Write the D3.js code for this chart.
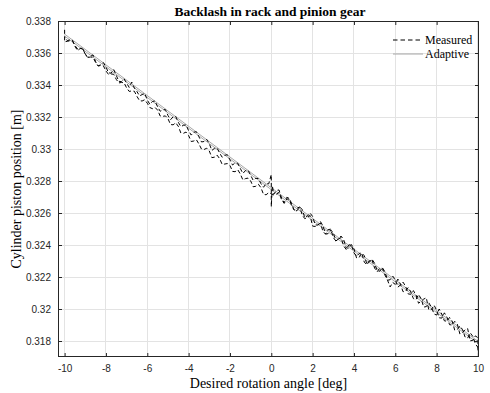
<!DOCTYPE html>
<html><head><meta charset="utf-8">
<script src="https://cdn.jsdelivr.net/npm/d3@7"></script>
<style>body{margin:0;background:#fff}svg{display:block}</style>
</head><body>
<script>
const xTicks = [-10,-8,-6,-4,-2,0,2,4,6,8,10];
const xTickLabels = ["-10","-8","-6","-4","-2","0","2","4","6","8","10"];
const yTicks = [0.318,0.32,0.322,0.324,0.326,0.328,0.33,0.332,0.334,0.336,0.338];
const yTickLabels = ["0.318","0.32","0.322","0.324","0.326","0.328","0.33","0.332","0.334","0.336","0.338"];

// Measured, forward sweep [angle, position]
const measuredFwd = [
[-10,0.33745],[-10,0.33670],[-9.875,0.33673],[-9.75,0.33676],[-9.625,0.33679],[-9.5,0.33642],[-9.375,0.33615],[-9.25,0.33628],[-9.125,0.33631],[-9,0.33589],
[-8.875,0.33572],[-8.75,0.33580],[-8.625,0.33588],[-8.5,0.33546],[-8.375,0.33519],[-8.25,0.33527],[-8.125,0.33540],[-8,0.33513],[-7.875,0.33476],[-7.75,0.33474],
[-7.625,0.33497],[-7.5,0.33460],[-7.375,0.33423],[-7.25,0.33421],[-7.125,0.33439],[-7,0.33412],[-6.875,0.33385],[-6.75,0.33418],[-6.625,0.33381],[-6.5,0.33359],
[-6.375,0.33332],[-6.25,0.33340],[-6.125,0.33348],[-6,0.33306],[-5.875,0.33279],[-5.75,0.33297],[-5.625,0.33300],[-5.5,0.33263],[-5.375,0.33236],[-5.25,0.33244],
[-5.125,0.33247],[-5,0.33210],[-4.875,0.33183],[-4.75,0.33201],[-4.625,0.33204],[-4.5,0.33167],[-4.375,0.33140],[-4.25,0.33148],[-4.125,0.33151],[-4,0.33114],
[-3.875,0.33087],[-3.75,0.33105],[-3.625,0.33108],[-3.5,0.33076],[-3.375,0.33044],[-3.25,0.33047],[-3.125,0.33060],[-3,0.33033],[-2.875,0.32991],[-2.75,0.33004],
[-2.625,0.33007],[-2.5,0.32975],[-2.375,0.32948],[-2.25,0.32961],[-2.125,0.32964],[-2,0.32932],[-1.875,0.32900],[-1.75,0.32913],[-1.625,0.32911],[-1.5,0.32879],
[-1.375,0.32847],[-1.25,0.32865],[-1.125,0.32868],[-1,0.32836],[-0.875,0.32804],[-0.75,0.32817],[-0.625,0.32815],[-0.5,0.32783],[-0.375,0.32761],[-0.25,0.32784],
[-0.125,0.32782],[0,0.32840],[0,0.32640],[0.05,0.32770],[0.125,0.32718],[0.25,0.32741],[0.375,0.32744],[0.5,0.32692],[0.625,0.32665],[0.75,0.32698],
[0.875,0.32691],[1,0.32654],[1.125,0.32612],[1.25,0.32615],[1.375,0.32638],[1.5,0.32621],[1.625,0.32569],[1.75,0.32582],[1.875,0.32600],[2,0.32578],
[2.125,0.32526],[2.25,0.32524],[2.375,0.32547],[2.5,0.32520],[2.625,0.32468],[2.75,0.32471],[2.875,0.32494],[3,0.32477],[3.125,0.32425],[3.25,0.32438],
[3.375,0.32456],[3.5,0.32434],[3.625,0.32382],[3.75,0.32380],[3.875,0.32403],[4,0.32376],[4.125,0.32319],[4.25,0.32322],[4.375,0.32350],[4.5,0.32333],
[4.625,0.32281],[4.75,0.32294],[4.875,0.32312],[5,0.32285],[5.125,0.32238],[5.25,0.32236],[5.375,0.32259],[5.5,0.32232],[5.625,0.32180],[5.75,0.32183],
[5.875,0.32206],[6,0.32184],[6.125,0.32137],[6.25,0.32150],[6.375,0.32168],[6.5,0.32141],[6.625,0.32094],[6.75,0.32092],[6.875,0.32115],[7,0.32088],
[7.125,0.32036],[7.25,0.32049],[7.375,0.32062],[7.5,0.32070],[7.625,0.31993],[7.75,0.31996],[7.875,0.32024],[8,0.31992],[8.125,0.31945],[8.25,0.31943],
[8.375,0.31976],[8.5,0.31949],[8.625,0.31902],[8.75,0.31900],[8.875,0.31923],[9,0.31906],[9.125,0.31844],[9.25,0.31852],[9.375,0.31870],[9.5,0.31878],
[9.625,0.31801],[9.75,0.31804],[9.875,0.31832],[10,0.31820],[10,0.31740]
];

// Measured, return sweep [angle, position]
const measuredRet = [
[10,0.31760],[9.875,0.31782],[9.75,0.31829],[9.625,0.31851],[9.5,0.31818],[9.375,0.31825],[9.25,0.31872],[9.125,0.31894],[9,0.31871],[8.875,0.31868],
[8.75,0.31925],[8.625,0.31947],[8.5,0.31924],[8.375,0.31926],[8.25,0.31968],[8.125,0.32000],[8,0.31962],[7.875,0.31969],[7.75,0.32011],[7.625,0.32038],
[7.5,0.32015],[7.375,0.32012],[7.25,0.32064],[7.125,0.32091],[7,0.32058],[6.875,0.32065],[6.75,0.32107],[6.625,0.32134],[6.5,0.32111],[6.375,0.32108],
[6.25,0.32155],[6.125,0.32187],[6,0.32154],[5.875,0.32166],[5.75,0.32138],[5.625,0.32180],[5.5,0.32212],[5.375,0.32254],[5.25,0.32256],[5.125,0.32233],
[5,0.32255],[4.875,0.32307],[4.75,0.32304],[4.625,0.32276],[4.5,0.32293],[4.375,0.32350],[4.25,0.32347],[4.125,0.32329],[4,0.32351],[3.875,0.32403],
[3.75,0.32400],[3.625,0.32372],[3.5,0.32394],[3.375,0.32446],[3.25,0.32438],[3.125,0.32425],[3,0.32447],[2.875,0.32499],[2.75,0.32496],[2.625,0.32468],
[2.5,0.32485],[2.375,0.32537],[2.25,0.32524],[2.125,0.32516],[2,0.32518],[1.875,0.32585],[1.75,0.32572],[1.625,0.32564],[1.5,0.32586],[1.375,0.32638],
[1.25,0.32630],[1.125,0.32617],[1,0.32639],[0.875,0.32686],[0.75,0.32688],[0.625,0.32660],[0.5,0.32682],[0.375,0.32729],[0.25,0.32716],[0.125,0.32713],
[0,0.32720],[-0.125,0.32727],[-0.25,0.32714],[-0.375,0.32716],[-0.5,0.32758],[-0.625,0.32780],[-0.75,0.32767],[-0.875,0.32764],[-1,0.32801],[-1.125,0.32818],
[-1.25,0.32815],[-1.375,0.32807],[-1.5,0.32844],[-1.625,0.32871],[-1.75,0.32858],[-1.875,0.32860],[-2,0.32897],[-2.125,0.32909],[-2.25,0.32906],[-2.375,0.32903],
[-2.5,0.32940],[-2.625,0.32962],[-2.75,0.32949],[-2.875,0.32946],[-3,0.32988],[-3.125,0.33005],[-3.25,0.32997],[-3.375,0.32999],[-3.5,0.33031],[-3.625,0.33058],
[-3.75,0.33050],[-3.875,0.33047],[-4,0.33084],[-4.125,0.33106],[-4.25,0.33098],[-4.375,0.33100],[-4.5,0.33142],[-4.625,0.33164],[-4.75,0.33151],[-4.875,0.33153],
[-5,0.33190],[-5.125,0.33207],[-5.25,0.33204],[-5.375,0.33206],[-5.5,0.33243],[-5.625,0.33260],[-5.75,0.33252],[-5.875,0.33259],[-6,0.33286],[-6.125,0.33308],
[-6.25,0.33300],[-6.375,0.33302],[-6.5,0.33329],[-6.625,0.33361],[-6.75,0.33363],[-6.875,0.33360],[-7,0.33382],[-7.125,0.33414],[-7.25,0.33416],[-7.375,0.33413],
[-7.5,0.33435],[-7.625,0.33467],[-7.75,0.33469],[-7.875,0.33466],[-8,0.33488],[-8.125,0.33520],[-8.25,0.33522],[-8.375,0.33519],[-8.5,0.33541],[-8.625,0.33573],
[-8.75,0.33575],[-8.875,0.33572],[-9,0.33594],[-9.125,0.33626],[-9.25,0.33628],[-9.375,0.33625],[-9.5,0.33647],[-9.625,0.33679],[-9.75,0.33681],[-9.875,0.33678],
[-10,0.33700]
];

// Adaptive estimate (two sweeps)
const adaptX = [-10, 10];
const adaptUpY = [0.33718, 0.31798];
const adaptLoY = [0.33706, 0.31786];

const W = 490, H = 393;
const m = {l:58, r:11, t:21, b:36};
const svg = d3.select("body").append("svg").attr("width",W).attr("height",H);
const x = d3.scaleLinear().domain([-10.32,10.05]).range([m.l, W-m.r]);
const y = d3.scaleLinear().domain([0.317,0.338]).range([H-m.b, m.t]);
const axCol = "#262626";

const g = svg.append("g");
g.selectAll(".gx").data(xTicks).enter().append("line")
  .attr("x1",d=>x(d)).attr("x2",d=>x(d)).attr("y1",m.t).attr("y2",H-m.b)
  .attr("stroke","#e3e3e3").attr("stroke-width",1).attr("shape-rendering","crispEdges");
g.selectAll(".gy").data(yTicks).enter().append("line")
  .attr("y1",d=>y(d)).attr("y2",d=>y(d)).attr("x1",m.l).attr("x2",W-m.r)
  .attr("stroke","#e3e3e3").attr("stroke-width",1).attr("shape-rendering","crispEdges");

svg.append("clipPath").attr("id","c").append("rect")
  .attr("x",m.l).attr("y",m.t).attr("width",W-m.l-m.r).attr("height",H-m.t-m.b);
const plot = svg.append("g").attr("clip-path","url(#c)");

const line = d3.line().x(d=>x(d[0])).y(d=>y(d[1]));
plot.append("path").datum(adaptX.map((v,i)=>[v,adaptUpY[i]]))
  .attr("d",line).attr("fill","none").attr("stroke","#a8a8a8").attr("stroke-width",1);
plot.append("path").datum(adaptX.map((v,i)=>[v,adaptLoY[i]]))
  .attr("d",line).attr("fill","none").attr("stroke","#a8a8a8").attr("stroke-width",1);
const meas = measuredFwd.concat(measuredRet);
plot.append("path").datum(meas)
  .attr("d",line).attr("fill","none").attr("stroke","#000").attr("stroke-width",1)
  .attr("stroke-dasharray","4,2.5");

const xb = d3.axisBottom(x).tickValues(xTicks).tickSize(-4).tickSizeOuter(0).tickPadding(8)
  .tickFormat((d,i)=>xTickLabels[i]);
const xt = d3.axisTop(x).tickValues(xTicks).tickSize(-4).tickSizeOuter(0).tickFormat("");
const yl = d3.axisLeft(y).tickValues(yTicks).tickSize(-4).tickSizeOuter(0).tickPadding(7)
  .tickFormat((d,i)=>yTickLabels[i]);
const yr = d3.axisRight(y).tickValues(yTicks).tickSize(-4).tickSizeOuter(0).tickFormat("");
function style(sel){
  sel.select(".domain").remove();
  sel.selectAll("line").attr("stroke",axCol);
  sel.selectAll("text").attr("fill",axCol).style("font-family","'Liberation Sans',Arial,sans-serif").style("font-size","10px");
}
svg.append("g").attr("transform",`translate(0,${H-m.b})`).call(xb).call(style);
svg.append("g").attr("transform",`translate(0,${m.t})`).call(xt).call(style);
svg.append("g").attr("transform",`translate(${m.l},0)`).call(yl).call(style);
svg.append("g").attr("transform",`translate(${W-m.r},0)`).call(yr).call(style);
svg.append("rect").attr("x",m.l+0.5).attr("y",m.t+0.5).attr("width",W-m.l-m.r-1).attr("height",H-m.t-m.b-1)
  .attr("fill","none").attr("stroke",axCol).attr("stroke-width",1);

const serif = "'Liberation Serif','Times New Roman',serif";
svg.append("text").attr("x",270).attr("y",16).attr("text-anchor","middle")
  .style("font-family",serif).style("font-weight","bold").style("font-size","13.5px")
  .text("Backlash in rack and pinion gear");
svg.append("text").attr("x",(m.l+W-m.r)/2).attr("y",388).attr("text-anchor","middle")
  .style("font-family",serif).style("font-size","14px")
  .text("Desired rotation angle [deg]");
svg.append("text").attr("transform",`translate(21,${(m.t+H-m.b)/2}) rotate(-90)`).attr("text-anchor","middle")
  .style("font-family",serif).style("font-size","14px")
  .text("Cylinder piston position [m]");

const legend = [{name:"Measured",stroke:"#000",dash:"4.5,3"},{name:"Adaptive",stroke:"#a8a8a8",dash:null}];
const lg = svg.append("g");
legend.forEach((d,i)=>{
  const ly = 40 + i*14;
  lg.append("line").attr("x1",393).attr("x2",423).attr("y1",ly).attr("y2",ly)
    .attr("stroke",d.stroke).attr("stroke-width",1).attr("stroke-dasharray",d.dash);
  lg.append("text").attr("x",425).attr("y",ly+4)
    .style("font-family",serif).style("font-size","12px").attr("fill","#000")
    .text(d.name);
});
</script>
</body></html>
